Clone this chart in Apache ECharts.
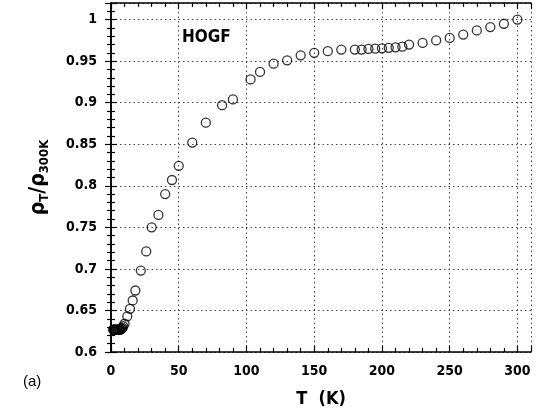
<!DOCTYPE html>
<html>
<head>
<meta charset="utf-8">
<script src="https://cdn.jsdelivr.net/npm/echarts@6/dist/echarts.min.js"></script>
<style>
  html, body { margin: 0; padding: 0; background: #fff; }
  #chart { width: 542px; height: 418px; }
</style>
</head>
<body>
<div id="chart"></div>
<script>
// Temperature (K) and normalised resistivity rho(T)/rho(300 K) of HOGF
var temperatures = [1.5, 2, 2.5, 3, 3.5, 4, 4.5, 5, 5.5, 6, 6.5, 7, 7.5, 8, 8.5, 9, 10, 12, 14, 16, 18, 22, 26, 30, 35, 40, 45, 50,
  60, 70, 82, 90, 103, 110, 120, 130, 140, 150, 160, 170, 180, 185, 190, 195, 200, 205,
  210, 215, 220, 230, 240, 250, 260, 270, 280, 290, 300];
var resistivityRatio = [0.627, 0.627, 0.627, 0.627, 0.627, 0.627, 0.627, 0.627, 0.627, 0.627, 0.627, 0.627, 0.628, 0.628, 0.629, 0.631, 0.634, 0.643,
  0.652, 0.662, 0.674, 0.698, 0.721, 0.750, 0.765, 0.790, 0.807, 0.824,
  0.852, 0.876, 0.897, 0.904, 0.928, 0.937, 0.947, 0.951, 0.957, 0.960, 0.962, 0.964,
  0.964, 0.964, 0.9647, 0.965, 0.9655, 0.966, 0.9667, 0.9675, 0.970,
  0.972, 0.975, 0.978, 0.982, 0.987, 0.991, 0.995, 1.0];

var xTicks = { min: 0, max: 310, interval: 50 };
var yTicks = { min: 0.6, max: 1.02, interval: 0.05 };

var points = temperatures.map(function (t, i) { return [t, resistivityRatio[i]]; });

var labelFont = "'Liberation Sans Narrow', 'DejaVu Sans Condensed', sans-serif";
var frame = { show: true, lineStyle: { color: '#000', width: 1.5 } };
var dotted = { show: true, lineStyle: { color: '#444', type: [1.5, 3], width: 1 } };

function boxAxis(extra, ticks) {
  return Object.assign({
    type: 'value',
    min: ticks.min,
    max: ticks.max,
    interval: ticks.interval,
    axisLine: frame,
    axisTick: { show: true, inside: true, length: 6, lineStyle: { color: '#000', width: 1.2 } },
    minorTick: { show: true, splitNumber: 5, length: 4, lineStyle: { color: '#000', width: 1.2 } },
    splitLine: { show: false },
    axisLabel: { show: false }
  }, extra);
}

var chart = echarts.init(document.getElementById('chart'), null, { renderer: 'canvas' });
chart.setOption({
  animation: false,
  backgroundColor: '#fff',
  grid: { left: 111, top: 3, width: 420, height: 349, containLabel: false },
  xAxis: [
    boxAxis({
      position: 'bottom',
      splitLine: dotted,
      axisLabel: { show: true, margin: 12, color: '#000', fontSize: 14, fontWeight: 'bold', fontFamily: labelFont, showMaxLabel: false },
      name: 'T  (K)',
      nameLocation: 'middle',
      nameGap: 38,
      nameTextStyle: { color: '#000', fontSize: 18, fontWeight: 'bold', fontFamily: labelFont }
    }, xTicks),
    boxAxis({ position: 'top' }, xTicks)
  ],
  yAxis: [
    boxAxis({
      position: 'left',
      splitLine: dotted,
      axisLabel: { show: true, margin: 14, color: '#000', fontSize: 14, fontWeight: 'bold', fontFamily: labelFont, showMaxLabel: false },
      name: '{r|ρ}{s|T}{r|/ρ}{s|300K}',
      nameLocation: 'middle',
      nameGap: 62,
      nameRotate: 90,
      nameTextStyle: {
        color: '#000',
        rich: {
          r: { fontSize: 21, fontWeight: 'bold', fontFamily: labelFont, color: '#000', verticalAlign: 'bottom', lineHeight: 26 },
          s: { fontSize: 13, fontWeight: 'bold', fontFamily: labelFont, color: '#000', verticalAlign: 'bottom', padding: [0, 0, -2, 0], lineHeight: 26 }
        }
      }
    }, yTicks),
    boxAxis({ position: 'right' }, yTicks)
  ],
  graphic: [
    { type: 'text', left: 182, top: 29, style: { text: 'HOGF', fill: '#000', font: "bold 17px 'Liberation Sans Narrow', 'DejaVu Sans Condensed', sans-serif" } },
    { type: 'text', left: 23, top: 374, style: { text: '(a)', fill: '#000', font: "15px 'Liberation Sans', Arial, sans-serif" } }
  ],
  series: [{
    type: 'scatter',
    xAxisIndex: 0,
    yAxisIndex: 0,
    data: points,
    symbol: 'circle',
    symbolSize: 9,
    itemStyle: { color: 'rgba(255,255,255,0)', borderColor: '#000', borderWidth: 1.3 }
  }]
});
</script>
</body>
</html>
